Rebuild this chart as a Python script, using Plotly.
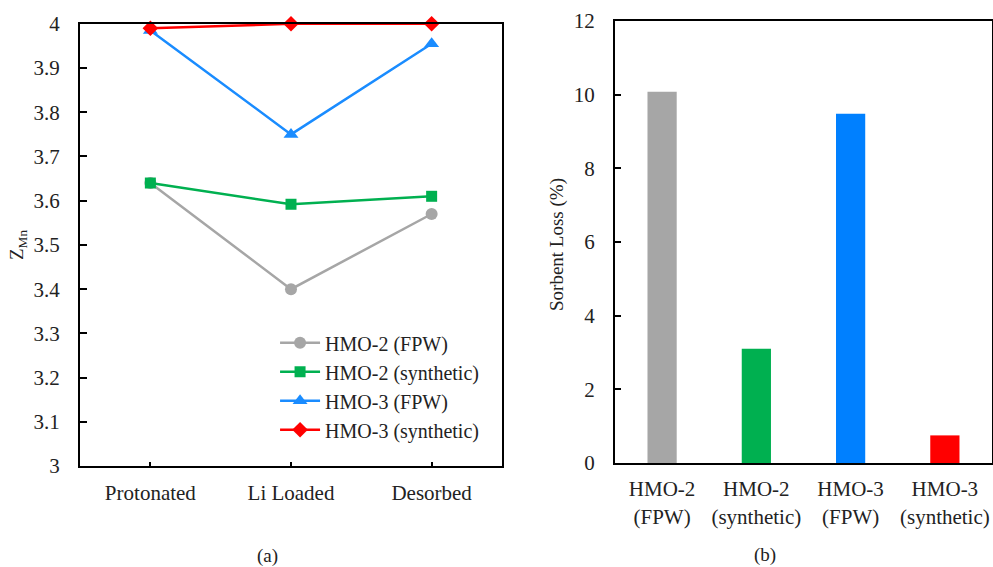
import plotly.graph_objects as go

stages = ["Protonated", "Li Loaded", "Desorbed"]
hmo2_fpw = [3.64, 3.40, 3.57]
hmo2_syn = [3.64, 3.592, 3.61]
hmo3_fpw = [3.985, 3.75, 3.955]
hmo3_syn = [3.99, 4.0, 4.0]

sorbents = ["HMO-2<br>(FPW)", "HMO-2<br>(synthetic)", "HMO-3<br>(FPW)", "HMO-3<br>(synthetic)"]
sorbent_loss = [10.08, 3.1, 9.48, 0.75]

GRAY = "#A6A6A6"
GREEN = "#00B050"
BLUE = "#1A8CFF"
RED = "#FF0000"
BAR_BLUE = "#0080FF"
FONT = "Liberation Serif"
TXT = "#222222"

fig = go.Figure()

series = [
    ("HMO-2 (FPW)", hmo2_fpw, GRAY, "circle", 12),
    ("HMO-2 (synthetic)", hmo2_syn, GREEN, "square", 11),
    ("HMO-3 (FPW)", hmo3_fpw, BLUE, "triangle-up", 13),
    ("HMO-3 (synthetic)", hmo3_syn, RED, "diamond", 12),
]
for name, vals, col, sym, sz in series:
    fig.add_trace(go.Scatter(
        x=stages, y=vals, name=name, mode="lines+markers",
        line=dict(color=col, width=2.5),
        marker=dict(color=col, symbol=sym, size=sz),
        cliponaxis=False, xaxis="x", yaxis="y",
    ))

fig.add_trace(go.Bar(
    x=sorbents, y=sorbent_loss, marker=dict(color=[GRAY, GREEN, BAR_BLUE, RED], line=dict(width=0)),
    width=0.31, showlegend=False, xaxis="x2", yaxis="y2",
))


def axis(**kw):
    d = dict(showline=True, linecolor="black", linewidth=2, mirror=True,
             showgrid=False, zeroline=False, automargin=False,
             tickfont=dict(family=FONT, size=21, color=TXT))
    d.update(kw)
    return d


fig.update_layout(
    width=993, height=567,
    margin=dict(l=0, r=0, t=0, b=0, autoexpand=False),
    paper_bgcolor="white", plot_bgcolor="white",
    xaxis=axis(domain=[0.0806, 0.5055], range=[-0.5, 2.5], ticks="inside", tickcolor="black",
               ticklen=4, tickwidth=1.5, anchor="y", ticklabelstandoff=7),
    yaxis=axis(domain=[0.178, 0.958], range=[3, 4], dtick=0.1, ticks="inside", tickcolor="black",
               ticklen=7, tickwidth=1.5, tickformat="~g", anchor="x", ticklabelstandoff=14),
    xaxis2=axis(domain=[0.6193, 0.999], range=[-0.5, 3.5], ticks="", anchor="y2",
                ticklabelstandoff=6),
    yaxis2=axis(domain=[0.1834, 0.963], range=[0, 12], dtick=2, ticks="inside", tickcolor="black",
                ticklen=6, tickwidth=1.5, anchor="x2", ticklabelstandoff=14),
    legend=dict(x=0.277, y=0.430, xanchor="left", yanchor="top",
                bgcolor="rgba(0,0,0,0)", font=dict(family=FONT, size=20, color=TXT),
                tracegroupgap=0, itemwidth=40),
    annotations=[
        dict(text="Z<sub>Mn</sub>", x=18/993, y=1-245/567, xref="paper", yref="paper",
             xanchor="center", yanchor="middle", textangle=-90,
             showarrow=False, font=dict(family=FONT, size=19, color=TXT)),
        dict(text="Sorbent Loss (%)", x=557/993, y=1-245/567, xref="paper", yref="paper",
             xanchor="center", yanchor="middle", textangle=-90,
             showarrow=False, font=dict(family=FONT, size=19, color=TXT)),
        dict(text="(a)", x=267/993, y=1-556/567, xref="paper", yref="paper",
             xanchor="center", yanchor="middle",
             showarrow=False, font=dict(family=FONT, size=19, color=TXT)),
        dict(text="(b)", x=765/993, y=1-555/567, xref="paper", yref="paper",
             xanchor="center", yanchor="middle",
             showarrow=False, font=dict(family=FONT, size=19, color=TXT)),
    ],
    bargap=0.5,
)

fig.write_html("out.html")
